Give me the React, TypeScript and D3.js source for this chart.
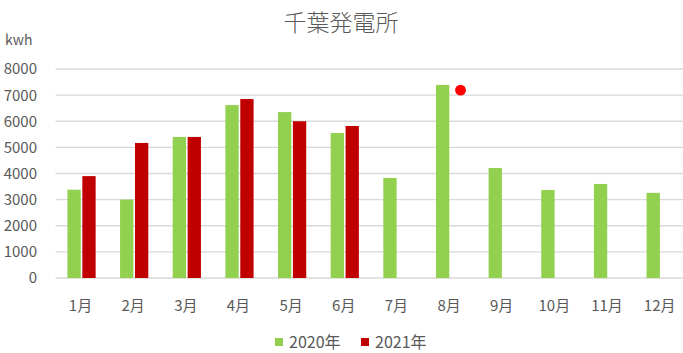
import React from 'react';
import * as d3 from 'd3';

const months = ['1月', '2月', '3月', '4月', '5月', '6月', '7月', '8月', '9月', '10月', '11月', '12月'];
const seriesNames = ['2020年', '2021年'];
const values2020 = [3380, 3000, 5400, 6620, 6350, 5550, 3830, 7390, 4210, 3370, 3600, 3260];
const values2021: (number | null)[] = [3900, 5170, 5400, 6850, 6000, 5820, null, null, null, null, null, null];
const markerMonth = '8月';
const markerValue = 7190;
const yTicks = [0, 1000, 2000, 3000, 4000, 5000, 6000, 7000, 8000];

const colors = ['#92D050', '#C00000'];
const textColor = '#595959';
const font = '"Noto Sans CJK JP", "Noto Sans", sans-serif';

const App: React.FC = () => {
    const width = 683;
    const height = 353;

    const x0 = d3.scaleBand<string>().domain(months).range([55.2, 687]);
    const x1 = d3
        .scaleBand<string>()
        .domain(seriesNames)
        .range([0, x0.bandwidth()])
        .paddingInner(0.107)
        .paddingOuter(0.82);
    const y = d3.scaleLinear().domain([0, 8000]).range([278, 69]);

    const series = [values2020, values2021];

    return (
        <div style={{ position: 'absolute', left: 0, top: 0 }}>
            <svg width={width} height={height} style={{ display: 'block', background: '#fff' }}>
                <text x={341} y={31} textAnchor="middle" fontFamily={font} fontWeight={300} fontSize={23} fill={textColor}>
                    千葉発電所
                </text>
                <text x={5} y={45} fontFamily={font} fontSize={14} fill={textColor}>
                    kwh
                </text>

                {/* grid + y labels */}
                {yTicks.map((t) => (
                    <g key={t}>
                        <line x1={55.5} x2={width} y1={y(t)} y2={y(t)} stroke="#D9D9D9" strokeWidth={1.3} />
                        <text x={37} y={y(t)} dy="0.36em" textAnchor="end" fontFamily={font} fontSize={15} fill={textColor}>
                            {t}
                        </text>
                    </g>
                ))}

                {/* bars */}
                {series.map((vals, si) =>
                    vals.map((v, i) =>
                        v == null ? null : (
                            <rect
                                key={`${si}-${i}`}
                                x={(x0(months[i]) ?? 0) + (x1(seriesNames[si]) ?? 0)}
                                y={y(v)}
                                width={x1.bandwidth()}
                                height={y(0) - y(v)}
                                fill={colors[si]}
                            />
                        ),
                    ),
                )}

                {/* marker */}
                <circle
                    cx={(x0(markerMonth) ?? 0) + (x1(seriesNames[1]) ?? 0) + x1.bandwidth() / 2 + 3}
                    cy={y(markerValue)}
                    r={5.4}
                    fill="#FF0000"
                />

                {/* x labels */}
                {months.map((m) => (
                    <text
                        key={m}
                        x={(x0(m) ?? 0) + x0.bandwidth() / 2 - 1}
                        y={311}
                        textAnchor="middle"
                        fontFamily={font}
                        fontSize={15}
                        fill={textColor}
                    >
                        {m}
                    </text>
                ))}

                {/* legend */}
                {seriesNames.map((s, i) => {
                    const lx = 275 + i * 86;
                    return (
                        <g key={s}>
                            <rect x={lx} y={338} width={8} height={8} fill={colors[i]} />
                            <text x={lx + 14} y={348} fontFamily={font} fontSize={16} fill={textColor}>
                                {s}
                            </text>
                        </g>
                    );
                })}
            </svg>
        </div>
    );
};

export default App;
